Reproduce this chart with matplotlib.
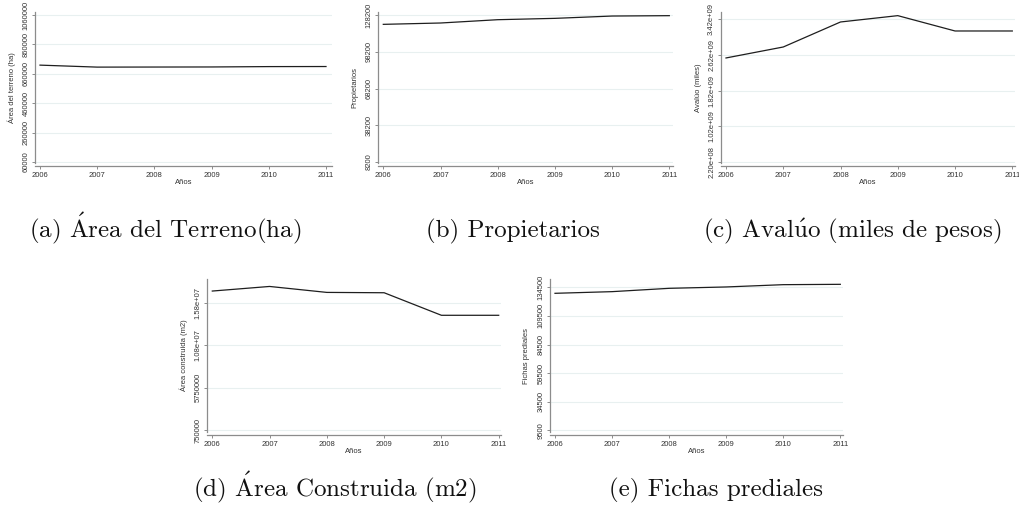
import matplotlib
matplotlib.use("Agg")
import matplotlib.pyplot as plt

plt.rcParams["mathtext.fontset"] = "cm"
plt.rcParams["font.family"] = ["Liberation Sans", "DejaVu Sans"]

years = [2006, 2007, 2008, 2009, 2010, 2011]

area_terreno = [719000, 705500, 706000, 706500, 709000, 709500]
propietarios = [120800, 121900, 124600, 125700, 127600, 127900]
avaluo = [2.553e9, 2.799e9, 3.360e9, 3.502e9, 3.158e9, 3.158e9]
area_construida = [17.12e6, 17.66e6, 16.96e6, 16.92e6, 14.27e6, 14.27e6]
fichas = [129250, 130700, 133600, 134800, 136800, 137100]

ticks_a = [60000, 260000, 460000, 660000, 860000, 1060000]
ticks_b = [8200, 38200, 68200, 98200, 128200]
ticks_c = [2.2e8, 1.02e9, 1.82e9, 2.62e9, 3.42e9]
ticks_d = [750000, 5750000, 10750000, 15750000]
ticks_e = [9500, 34500, 59500, 84500, 109500, 134500]

labels_a = ["60000", "260000", "460000", "660000", "860000", "1060000"]
labels_b = ["8200", "38200", "68200", "98200", "128200"]
labels_c = ["2.20e+08", "1.02e+09", "1.82e+09", "2.62e+09", "3.42e+09"]
labels_d = ["750000", "5750000", "1.08e+07", "1.58e+07"]
labels_e = ["9500", "34500", "59500", "84500", "109500", "134500"]

ylabels = ["Área del terreno (ha)", "Propietarios", "Avalúo (miles)",
           "Área construida (m2)", "Fichas prediales"]
captions = [r"(a) $\acute{\mathrm{A}}$rea del Terreno(ha)",
            "(b) Propietarios",
            r"(c) Aval$\acute{\mathrm{u}}$o (miles de pesos)",
            r"(d) $\acute{\mathrm{A}}$rea Construida (m2)",
            "(e) Fichas prediales"]

W, H = 1020, 507
fig = plt.figure(figsize=(W / 100, H / 100), dpi=100)

SPINE = "#8c8c8c"
GRID = "#e8f0f0"
TXT = "#333333"
FS = 5.5


def panel(left, right, top, bottom, xaxis_y, p2006, p2011, t_lo, t_hi,
          series, ticks, labels, ylabel, ylabel_x):
    ax = fig.add_axes([left / W, 1 - bottom / H, (right - left) / W,
                       (bottom - top) / H])
    # map pixel layout to data limits
    ppy = (p2011 - p2006) / 5.0
    ax.set_xlim(2006 - (p2006 - left) / ppy, 2011 + (right - p2011) / ppy)
    (v_lo, p_lo), (v_hi, p_hi) = t_lo, t_hi
    ppv = (p_lo - p_hi) / (v_hi - v_lo)
    ax.set_ylim(v_lo - (bottom - p_lo) / ppv, v_hi + (p_hi - top) / ppv)

    for y in ticks:
        ax.axhline(y, color=GRID, lw=0.8, zorder=0)
    ax.plot(years, series, color="#1e1e1e", lw=0.9, zorder=3)

    for s in ("top", "right"):
        ax.spines[s].set_visible(False)
    for s in ("left", "bottom"):
        ax.spines[s].set_color(SPINE)
        ax.spines[s].set_linewidth(0.9)
    ax.spines["bottom"].set_position(("outward", (xaxis_y - bottom) * 0.72))

    ax.set_yticks(ticks)
    ax.set_yticklabels(labels, rotation=90, va="center", fontsize=FS,
                       color=TXT)
    ax.set_xticks(years)
    ax.set_xticklabels([str(y) for y in years], fontsize=FS, color=TXT)
    ax.tick_params(axis="both", length=2.5, width=0.7, color=SPINE, pad=1.5)

    ax.set_xlabel("Años", fontsize=FS, color=TXT, labelpad=0.2)
    fig.text(ylabel_x / W, 1 - ((top + bottom) / 2) / H, ylabel,
             rotation=90, ha="center", va="center", fontsize=FS, color=TXT)
    return ax


panel(35, 332, 12, 163, 166, 40, 326, (60000, 162), (1060000, 15),
      area_terreno, ticks_a, labels_a, ylabels[0], 12)
panel(378, 673, 12, 163, 166, 383.3, 669.3, (8200, 162), (128200, 15.3),
      propietarios, ticks_b, labels_b, ylabels[1], 355)
panel(720.7, 1015, 12, 163, 166, 726, 1012.3, (2.2e8, 162), (3.42e9, 19.3),
      avaluo, ticks_c, labels_c, ylabels[2], 699)
panel(207.3, 501, 279, 432, 435, 212.3, 498.7, (750000, 430.3),
      (15750000, 302.7), area_construida, ticks_d, labels_d, ylabels[3], 184)
panel(550.3, 843, 279, 432, 435, 555, 840.3, (9500, 430.3), (134500, 287.3),
      fichas, ticks_e, labels_e, ylabels[4], 527)

# subfigure captions share a common baseline per row
cap_pos = [(165, 237), (513, 237), (852, 237), (335, 496), (716, 496)]
for (cx, cy), txt in zip(cap_pos, captions):
    fig.text(cx / W, 1 - cy / H, txt, ha="center", va="baseline",
             fontsize=18, family="cmr10", color="#111111")

fig.savefig("out.png", dpi=100)
